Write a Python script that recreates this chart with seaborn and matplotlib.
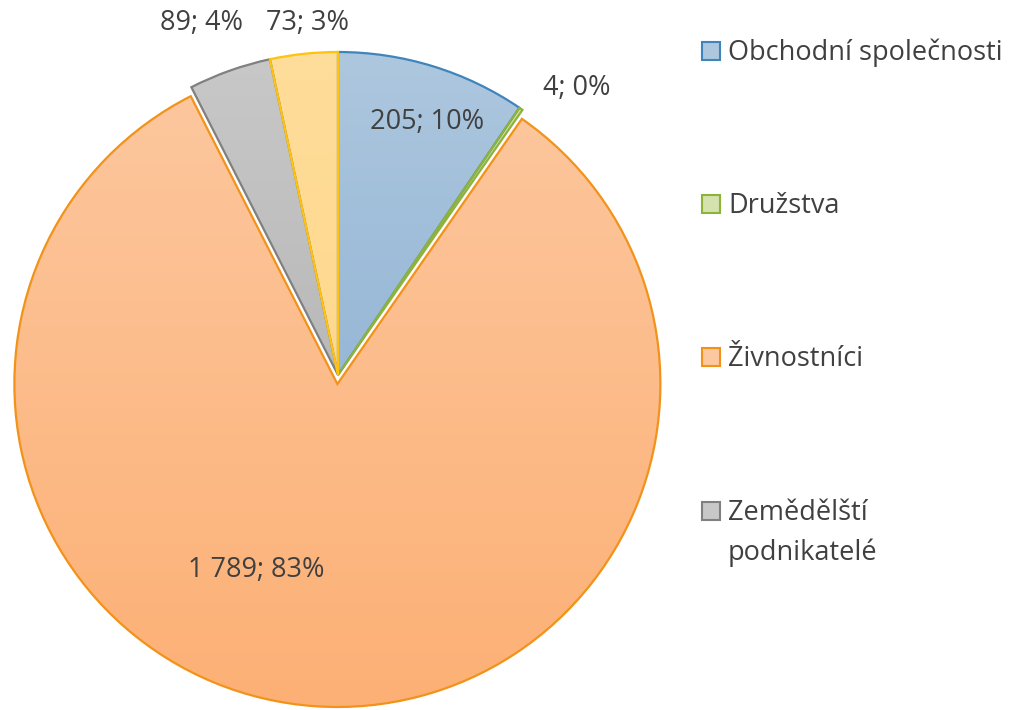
import numpy as np
import matplotlib
matplotlib.use("Agg")
import matplotlib.pyplot as plt
import seaborn as sns
from matplotlib.colors import LinearSegmentedColormap
from matplotlib.patches import Rectangle

sns.set_theme(style="white")
plt.rcParams["font.family"] = ["Open Sans", "DejaVu Sans"]

# Data
categories = ["Obchodní společnosti", "Družstva", "Živnostníci",
              "Zemědělští\npodnikatelé", "Ostatní"]
values = [205, 4, 1789, 89, 73]
percent_labels = ["10%", "0%", "83%", "4%", "3%"]
in_legend = [True, True, True, True, False]

# Styling: (top colour, bottom colour, edge colour) per slice
fills = [("#adc7de", "#7fa7cf", "#3f85bb"),
         ("#d4e2ad", "#bcd27c", "#8db33a"),
         ("#fcc8a0", "#fdb075", "#f39219"),
         ("#c8c8c8", "#a9a9a9", "#808080"),
         ("#fedd9a", "#fed380", "#ffc20e")]
explode = [0, 0, 9, 0, 0]
label_pos = [(427, 588), (577, 622), (256, 140), (201, 687), (308, 687)]
text_color = "#404040"
fsize = 19.5

W, H = 1013, 710
fig = plt.figure(figsize=(W / 100, H / 100), dpi=100)
ax = fig.add_axes([0, 0, 1, 1])

cx, cy, r = 338, 335, 323
wedges, _ = ax.pie(values, startangle=90, counterclock=False, radius=r,
                   center=(cx, cy), explode=explode,
                   wedgeprops=dict(linewidth=1.6, joinstyle="miter"),
                   frame=True)
ax.set_xlim(0, W)
ax.set_ylim(0, H)
ax.set_axis_off()

# Vertical gradient fill for each slice, clipped to the wedge
grad = np.linspace(0, 1, 256).reshape(-1, 1)
for w, (top, bot, edge) in zip(wedges, fills):
    w.set_facecolor("none")
    w.set_edgecolor(edge)
    w.set_zorder(3)
    cmap = LinearSegmentedColormap.from_list("g", [bot, top])
    im = ax.imshow(grad, cmap=cmap, aspect="auto", origin="lower",
                   extent=(cx - r, cx + r, cy - r - 12, cy + r), zorder=2,
                   interpolation="bilinear")
    im.set_clip_path(w)

# Data labels
for v, p, pos in zip(values, percent_labels, label_pos):
    txt = f"{v:,}".replace(",", " ") + "; " + p
    ax.text(pos[0], pos[1], txt, ha="center", va="center",
            fontsize=fsize, color=text_color, zorder=5)

# Legend
legend_y = [51, 204, 357, 511]
k = 0
for cat, show, (top, bot, edge) in zip(categories, in_legend, fills):
    if not show:
        continue
    y = H - legend_y[k]
    ax.add_patch(Rectangle((702, y - 9), 18, 18, facecolor=top,
                           edgecolor=edge, linewidth=1.5, zorder=5))
    for j, line in enumerate(cat.split("\n")):
        ax.text(728, y - 2 - j * 40, line, ha="left", va="center",
                fontsize=fsize, color=text_color)
    k += 1

fig.savefig("out.png", dpi=100, facecolor="white")
